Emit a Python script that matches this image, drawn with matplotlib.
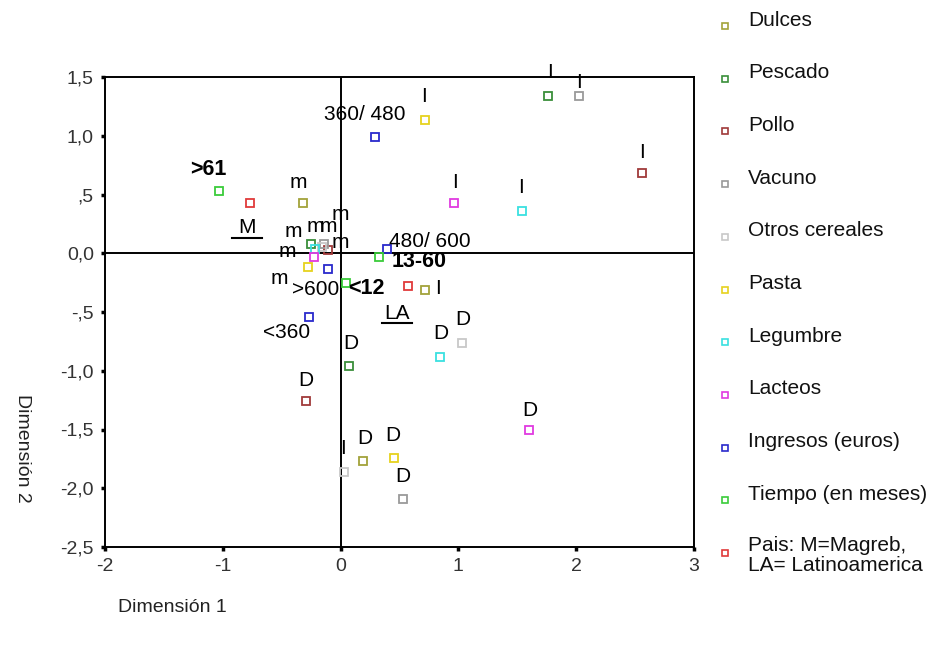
import matplotlib
matplotlib.use("Agg")
import matplotlib.pyplot as plt
from matplotlib.lines import Line2D

plt.rcParams['font.family'] = ['Liberation Sans', 'DejaVu Sans']

# ---------------- data ----------------
series_names = ["Dulces", "Pescado", "Pollo", "Vacuno", "Otros cereales", "Pasta",
                "Legumbre", "Lacteos", "Ingresos (euros)", "Tiempo (en meses)",
                "Pais: M=Magreb,\nLA= Latinoamerica"]
series_colors = ["#a3a33a", "#3a8f3a", "#a03a3a", "#9a9a9a", "#c8c8c8", "#e6d21e",
                 "#3ae0e0", "#e03ae0", "#2a2acc", "#3acc3a", "#e03a3a"]

dulces_lab = ["m", "I", "D"]
dulces_x = [-0.32, 0.72, 0.19]
dulces_y = [0.43, -0.31, -1.77]

pescado_lab = ["I", "m", "D"]
pescado_x = [1.76, -0.25, 0.07]
pescado_y = [1.34, 0.08, -0.96]

pollo_lab = ["I", "m", "D"]
pollo_x = [2.56, -0.11, -0.29]
pollo_y = [0.68, 0.03, -1.26]

vacuno_lab = ["I", "m", "D"]
vacuno_x = [2.02, -0.14, 0.53]
vacuno_y = [1.34, 0.08, -2.09]

otros_lab = ["I", "m", "D"]
otros_x = [0.03, -0.16, 1.03]
otros_y = [-1.86, 0.05, -0.76]

pasta_lab = ["I", "m", "D"]
pasta_x = [0.72, -0.28, 0.45]
pasta_y = [1.13, -0.12, -1.74]

legumbre_lab = ["I", "m", "D"]
legumbre_x = [1.54, -0.22, 0.84]
legumbre_y = [0.36, 0.04, -0.88]

lacteos_lab = ["I", "m", "D"]
lacteos_x = [0.96, -0.23, 1.60]
lacteos_y = [0.43, -0.03, -1.50]

ingresos_lab = ["360/ 480", "480/ 600", "<360", ">600"]
ingresos_x = [0.29, 0.39, -0.27, -0.11]
ingresos_y = [0.99, 0.04, -0.54, -0.13]

tiempo_lab = [">61", "13-60", "<12"]
tiempo_x = [-1.03, 0.33, 0.05]
tiempo_y = [0.53, -0.03, -0.25]

pais_lab = ["M", "LA"]
pais_x = [-0.77, 0.57]
pais_y = [0.43, -0.28]

x_ticks = [-2, -1, 0, 1, 2, 3]
x_ticklabels = ["-2", "-1", "0", "1", "2", "3"]
y_ticks = [1.5, 1.0, 0.5, 0.0, -0.5, -1.0, -1.5, -2.0, -2.5]
y_ticklabels = ["1,5", "1,0", ",5", "0,0", "-,5", "-1,0", "-1,5", "-2,0", "-2,5"]

# ---------------- label layout (pixel offsets) ----------------
offsets = {
    "Dulces": [(-5, 20), (13, 1), (2, 23)],
    "Pescado": [(2, 23), (-18, 12), (2, 23)],
    "Pollo": [(0, 21), (13, 7), (-1, 21)],
    "Vacuno": [(0, 13), (16, 29), (0, 22)],
    "Otros cereales": [(-1, 23), (7, 21), (1, 23)],
    "Pasta": [(-1, 24), (-28, -11), (-1, 22)],
    "Legumbre": [(-1, 23), (1, 22), (1, 23)],
    "Lacteos": [(1, 20), (-26, 5), (1, 19)],
    "Ingresos (euros)": [(-10, 22), (43, 7), (-22, -16), (-12, -21)],
    "Tiempo (en meses)": [(-11, 21), (40, -5), (20, -6)],
    "Pais": [(-3, -25), (-11, -27)],
}

groups = [
    ("Dulces", dulces_x, dulces_y, dulces_lab, False),
    ("Pescado", pescado_x, pescado_y, pescado_lab, False),
    ("Pollo", pollo_x, pollo_y, pollo_lab, False),
    ("Vacuno", vacuno_x, vacuno_y, vacuno_lab, False),
    ("Otros cereales", otros_x, otros_y, otros_lab, False),
    ("Pasta", pasta_x, pasta_y, pasta_lab, False),
    ("Legumbre", legumbre_x, legumbre_y, legumbre_lab, False),
    ("Lacteos", lacteos_x, lacteos_y, lacteos_lab, False),
    ("Ingresos (euros)", ingresos_x, ingresos_y, ingresos_lab, False),
    ("Tiempo (en meses)", tiempo_x, tiempo_y, tiempo_lab, True),
    ("Pais", pais_x, pais_y, pais_lab, False),
]

W, H = 943, 647
fig = plt.figure(figsize=(W / 100, H / 100), dpi=100)
ax = fig.add_axes([105 / W, 1 - 547 / H, 589 / W, 470 / H])
ax.set_xlim(-2, 3)
ax.set_ylim(-2.5, 1.5)

ax.axhline(0, color="black", lw=1.4, zorder=1)
ax.axvline(0, color="black", lw=1.4, zorder=1)

for (name, xs, ys, labs, bold), col in zip(groups, series_colors):
    ax.plot(xs, ys, ls="none", marker="s", ms=5.5, mfc="none", mec=col, mew=1.3, zorder=3)
    for lab, x, y, (dx, dy) in zip(labs, xs, ys, offsets[name]):
        ax.annotate(lab, (x, y), xytext=(dx, dy), textcoords="offset pixels",
                    ha="center", va="center", fontsize=15 if not bold else 15.5,
                    fontweight="bold" if bold else "normal", color="black", zorder=4)

# underlines for Pais labels
for x, y, (dx, dy) in zip(pais_x, pais_y, offsets["Pais"]):
    px, py = ax.transData.transform((x, y))
    cx, cy = px + dx, py + dy - 10
    fig.add_artist(Line2D([(cx - 15) / W, (cx + 15) / W], [cy / H, cy / H],
                          color="black", lw=1.5))

ax.set_xticks(x_ticks)
ax.set_xticklabels(x_ticklabels)
ax.set_yticks(y_ticks)
ax.set_yticklabels(y_ticklabels)
ax.tick_params(direction="out", length=3, width=2.5, labelsize=14, pad=5,
               colors="black", labelcolor="#333333")
for s in ax.spines.values():
    s.set_linewidth(1.4)

fig.text(118 / W, 1 - 608 / H, "Dimensión 1", fontsize=14, ha="left", va="center", color="#222222")
fig.text(22 / W, 1 - 448 / H, "Dimensión 2", fontsize=14, rotation=270, ha="center", va="center",
         color="#222222")

# legend (manual)
leg_y0 = 20
leg_step = 52.7
for i, (name, col) in enumerate(zip(series_names, series_colors)):
    ypx = leg_y0 + i * leg_step
    fig.add_artist(Line2D([725 / W], [1 - (ypx + 6) / H], ls="none", marker="s", ms=4,
                          mfc="none", mec=col, mew=1.2))
    if "\n" in name:
        fig.text(748 / W, 1 - (ypx - 11) / H, name, fontsize=15, ha="left", va="top",
                 linespacing=1.05, color="#111111")
    else:
        fig.text(748 / W, 1 - ypx / H, name, fontsize=15, ha="left", va="center", color="#111111")

fig.savefig("out.png", dpi=100)
